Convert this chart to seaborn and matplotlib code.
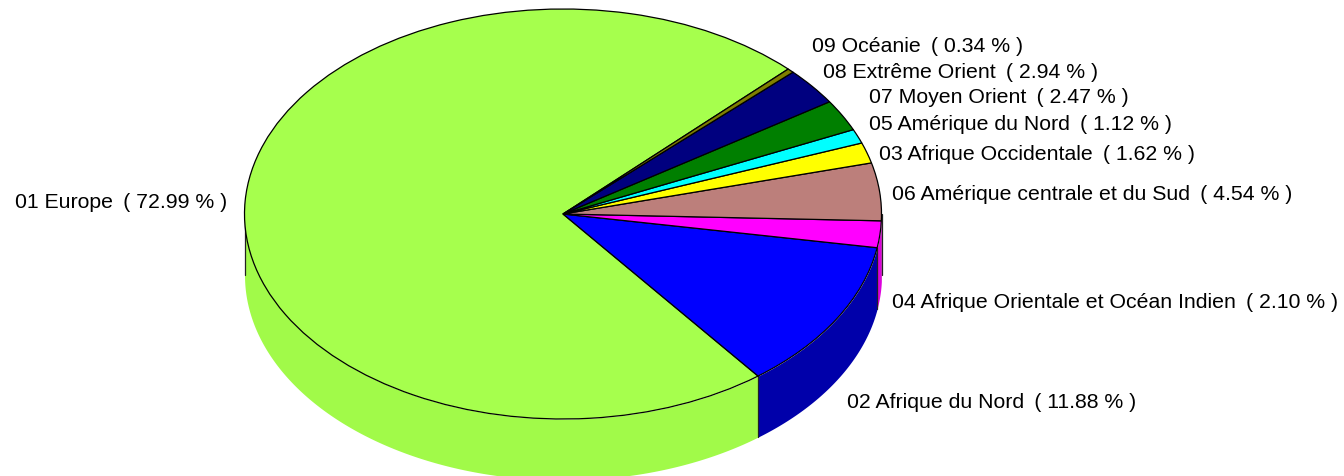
import numpy as np
import matplotlib
matplotlib.use("Agg")
import matplotlib.pyplot as plt
import seaborn as sns

labels = ["01 Europe", "02 Afrique du Nord", "04 Afrique Orientale et Océan Indien",
          "06 Amérique centrale et du Sud", "03 Afrique Occidentale", "05 Amérique du Nord",
          "07 Moyen Orient", "08 Extrême Orient", "09 Océanie"]
shares = [72.99, 11.88, 2.10, 4.54, 1.62, 1.12, 2.47, 2.94, 0.34]
colors = ["#a6ff4d", "#0000ff", "#ff00ff", "#bc7f7b", "#ffff00", "#00ffff", "#007f00", "#00007f", "#7f7f00"]
wall_colors = ["#a1fa49", "#0000aa", "#dd00dd", "#8c5f5c", "#aaaa00", "#00aaaa", "#005500", "#000055", "#555500"]
label_left = [15, 847, 892, 892, 879, 869, 869, 823, 812]
label_mid = [203, 403, 302, 195, 154, 124, 98, 72, 46]

W, H = 1344, 476
CX, CY, RX, RY, DEPTH = 563, 214, 318.5, 205, 61
START = 45

sns.set_theme(style="white")
plt.rcParams["font.family"] = ["Liberation Sans", "DejaVu Sans"]

fig = plt.figure(figsize=(W / 100, H / 100), dpi=100)
ax = fig.add_axes([0, 0, 1, 1])

# side wall first, only the part of each slice facing the viewer
depth = DEPTH / RY
edges = START + np.cumsum([0] + shares) * 3.6
for i in range(len(shares)):
    for lo, hi in [(180, 360), (540, 720)]:
        a = max(edges[i], lo)
        b = min(edges[i + 1], hi)
        if b <= a:
            continue
        t = np.radians(np.linspace(a, b, 200))
        x = np.cos(t)
        y = np.sin(t)
        ax.fill_between(x, y, y - depth, color=wall_colors[i], lw=0, zorder=1)

for a in [180, 360, edges[1], edges[2]]:
    t = np.radians(a)
    ax.plot([np.cos(t)] * 2, [np.sin(t), np.sin(t) - depth], color="#222222", lw=0.9, zorder=2)

ax.pie(shares, colors=colors, startangle=START, counterclock=True, radius=1,
       wedgeprops={"edgecolor": "black", "linewidth": 0.9, "zorder": 3})
ax.set_aspect("auto")
ax.set_xlim(-CX / RX, (W - CX) / RX)
ax.set_ylim((CY - H) / RY, CY / RY)

for name, share, left, mid in zip(labels, shares, label_left, label_mid):
    fig.text(left / W, 1 - mid / H, f"{name} \u2009( {share:.2f} % )", fontsize=15.35,
             color="black", ha="left", va="center")

fig.savefig("out.png", dpi=100)
